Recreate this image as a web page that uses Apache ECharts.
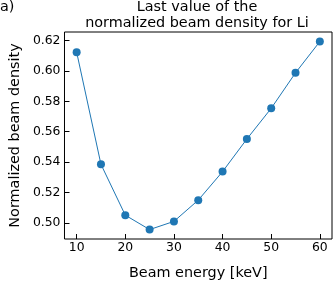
<!DOCTYPE html>
<html>
<head>
<meta charset="utf-8">
<script src="https://cdn.jsdelivr.net/npm/echarts@6/dist/echarts.min.js"></script>
<style>html,body{margin:0;padding:0;background:#fff}#c{width:333px;height:285px}</style>
</head>
<body>
<div id="c"></div>
<script>
var energies = [10, 15, 20, 25, 30, 35, 40, 45, 50, 55, 60];
var density = [0.6124, 0.5385, 0.5050, 0.4955, 0.5009, 0.5149, 0.5337, 0.5552, 0.5754, 0.5988, 0.6194];
var xTicks = [10, 20, 30, 40, 50, 60];
var yTicks = [0.50, 0.52, 0.54, 0.56, 0.58, 0.60, 0.62];

var font = 'DejaVu Sans';
var chart = echarts.init(document.getElementById('c'), null, {renderer: 'canvas'});
chart.setOption({
  animation: false,
  backgroundColor: '#fff',
  title: {
    text: 'Last value of the\nnormalized beam density for Li',
    left: 197, top: -1, textAlign: 'center', padding: 0,
    textStyle: {fontFamily: font, fontSize: 14.4, fontWeight: 'normal', color: '#000', lineHeight: 16}
  },
  graphic: [{
    type: 'text', left: 0, top: 0,
    style: {text: 'a)', fontFamily: font, fontSize: 14.4, fill: '#000'}
  }],
  grid: {left: 61, right: 1, top: 32, bottom: 33, show: true, borderColor: '#000', borderWidth: 1, containLabel: false},
  xAxis: {
    type: 'value', min: 7.5, max: 62.5,
    name: 'Beam energy [keV]', nameLocation: 'middle', nameGap: 27,
    nameTextStyle: {fontFamily: font, fontSize: 14.4, color: '#000'},
    axisLine: {show: false},
    axisTick: {show: true, inside: true, length: 5, lineStyle: {color: '#000'}, customValues: xTicks},
    axisLabel: {fontFamily: font, fontSize: 12.4, color: '#000', margin: 3, customValues: xTicks},
    splitLine: {show: false}
  },
  yAxis: {
    type: 'value', min: 0.4893, max: 0.6257,
    name: 'Normalized beam density', nameLocation: 'middle', nameGap: 31,
    nameTextStyle: {fontFamily: font, fontSize: 14.4, color: '#000'},
    axisLine: {show: false},
    axisTick: {show: true, inside: true, length: 5, lineStyle: {color: '#000'}, customValues: yTicks},
    axisLabel: {fontFamily: font, fontSize: 12.4, color: '#000', margin: 4, customValues: yTicks,
      formatter: function(v){ return v.toFixed(2); }},
    splitLine: {show: false}
  },
  series: [{
    type: 'line',
    data: energies.map(function(e, i){ return [e, density[i]]; }),
    symbol: 'circle', symbolSize: 8,
    itemStyle: {color: '#1f77b4'},
    lineStyle: {color: '#1f77b4', width: 1}
  }]
});
</script>
</body>
</html>
